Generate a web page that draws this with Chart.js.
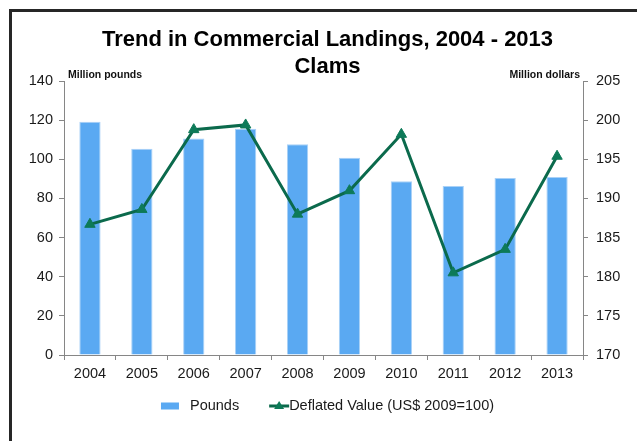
<!DOCTYPE html>
<html>
<head>
<meta charset="utf-8">
<script src="https://cdn.jsdelivr.net/npm/chart.js@4.4.1/dist/chart.umd.min.js"></script>
<style>
  html, body { margin: 0; padding: 0; background: #fff; overflow: hidden; }
  #wrap { position: relative; width: 637px; height: 441px; }
  #frame { position: absolute; left: 9px; top: 9px; width: 700px; height: 500px; border: 3px solid #262626; box-sizing: border-box; }
  canvas { position: absolute; left: 0; top: 0; }
</style>
</head>
<body>
<div id="wrap">
  <div id="frame"></div>
  <canvas id="landings" width="637" height="441"></canvas>
</div>
<script>
"use strict";

// data
var years = ['2004', '2005', '2006', '2007', '2008', '2009', '2010', '2011', '2012', '2013'];
var pounds = [119.2, 105.4, 110.7, 115.6, 107.7, 100.8, 88.8, 86.4, 90.5, 91.0];
var deflatedValue = [186.7, 188.6, 198.8, 199.4, 188.0, 191.0, 198.2, 180.5, 183.5, 195.4];
var titleLines = ['Trend in Commercial Landings, 2004 - 2013', 'Clams'];
var leftAxisTitle = 'Million pounds';
var rightAxisTitle = 'Million dollars';

var fontFamily = '"Liberation Sans", Arial, sans-serif';
var axisGrey = '#868686';
var lineGreen = '#0b6a4c';
var markerGreen = '#0d7a58';
var barBlue = '#5aa9f2';

// horizontal unit labels above each y axis
var unitLabels = {
    id: 'unitLabels',
    afterDraw: function(chart) {
        var ctx = chart.ctx;
        var area = chart.chartArea;
        ctx.save();
        ctx.font = 'bold 10.5px ' + fontFamily;
        ctx.fillStyle = '#111';
        ctx.textBaseline = 'middle';
        ctx.textAlign = 'left';
        ctx.fillText(leftAxisTitle, area.left + 4, area.top - 6);
        ctx.textAlign = 'right';
        ctx.fillText(rightAxisTitle, area.right - 3, area.top - 6);
        ctx.restore();
    }
};

// Excel style legend: box for the bars, line with triangle for the value series
var bottomLegend = {
    id: 'bottomLegend',
    afterDraw: function(chart) {
        var ctx = chart.ctx;
        var sets = chart.data.datasets;
        var y = chart.chartArea.bottom + 51;
        ctx.save();
        ctx.font = '14.5px ' + fontFamily;
        var w1 = ctx.measureText(sets[0].label).width;
        var w2 = ctx.measureText(sets[1].label).width;
        var total = 18 + 11 + w1 + 30 + 20 + w2;
        var x = (chart.width + 18) / 2 - total / 2;

        ctx.fillStyle = barBlue;
        ctx.fillRect(x, y - 3.5, 18, 7);
        ctx.fillStyle = '#1a1a1a';
        ctx.textBaseline = 'middle';
        ctx.textAlign = 'left';
        ctx.fillText(sets[0].label, x + 29, y);

        var lx = x + 29 + w1 + 30;
        ctx.strokeStyle = lineGreen;
        ctx.lineWidth = 3;
        ctx.beginPath();
        ctx.moveTo(lx, y);
        ctx.lineTo(lx + 20, y);
        ctx.stroke();
        ctx.fillStyle = markerGreen;
        ctx.beginPath();
        ctx.moveTo(lx + 10, y - 5);
        ctx.lineTo(lx + 15, y + 3);
        ctx.lineTo(lx + 5, y + 3);
        ctx.closePath();
        ctx.fill();

        ctx.fillStyle = '#1a1a1a';
        ctx.fillText(sets[1].label, lx + 20, y);
        ctx.restore();
    }
};

var ctx = document.getElementById('landings').getContext('2d');
var chart = new Chart(ctx, {
    type: 'bar',
    data: {
        labels: years,
        datasets: [{
            type: 'bar',
            label: 'Pounds',
            data: pounds,
            yAxisID: 'y',
            backgroundColor: barBlue,
            borderColor: '#a9d1f7',
            borderWidth: 1,
            barPercentage: 0.41,
            categoryPercentage: 1,
            order: 2
        }, {
            type: 'line',
            label: 'Deflated Value (US$ 2009=100)',
            data: deflatedValue,
            yAxisID: 'y1',
            borderColor: lineGreen,
            borderWidth: 3,
            pointStyle: 'triangle',
            pointRadius: 6,
            pointBackgroundColor: markerGreen,
            pointBorderColor: markerGreen,
            pointBorderWidth: 1,
            tension: 0,
            order: 1
        }]
    },
    options: {
        responsive: false,
        animation: false,
        layout: { padding: { left: 18, right: 0, top: 26, bottom: 53.6 } },
        plugins: {
            title: {
                display: true,
                text: titleLines,
                color: '#000',
                font: { family: fontFamily, size: 22, weight: 'bold', lineHeight: 1.23 },
                padding: { top: 0, bottom: 1 }
            },
            legend: { display: false },
            tooltip: { enabled: false }
        },
        scales: {
            x: {
                grid: { offset: true, drawOnChartArea: false, tickLength: 5, color: axisGrey },
                border: { color: axisGrey },
                ticks: { color: '#1a1a1a', padding: 5, font: { family: fontFamily, size: 14.5 } }
            },
            y: {
                position: 'left',
                min: 0,
                max: 140,
                ticks: { stepSize: 20, color: '#1a1a1a', padding: 6, font: { family: fontFamily, size: 14.5 } },
                grid: { drawOnChartArea: false, tickLength: 5, color: axisGrey },
                border: { color: axisGrey },
                afterFit: function(scale) { scale.width = 46; }
            },
            y1: {
                position: 'right',
                min: 170,
                max: 205,
                ticks: { stepSize: 5, color: '#1a1a1a', padding: 8, font: { family: fontFamily, size: 14.5 } },
                grid: { drawOnChartArea: false, tickLength: 5, color: axisGrey },
                border: { color: axisGrey },
                afterFit: function(scale) { scale.width = 54; }
            }
        }
    },
    plugins: [unitLabels, bottomLegend]
});
</script>
</body>
</html>
